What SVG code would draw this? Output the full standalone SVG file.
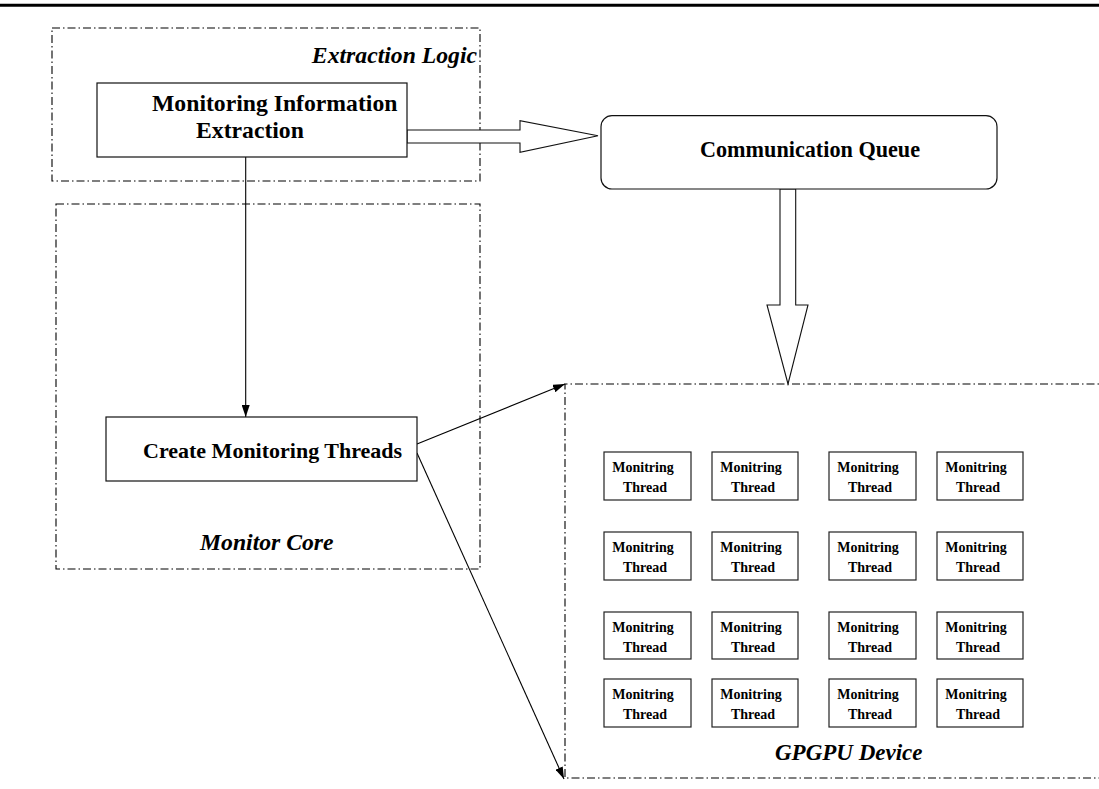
<svg xmlns="http://www.w3.org/2000/svg" width="1099" height="789" viewBox="0 0 1099 789">
<defs>
<style>
.grp{fill:none;stroke:#000;stroke-width:1.1;stroke-dasharray:8 3 1.5 3}
.box{fill:#fff;stroke:#111;stroke-width:1.2}
.tb{fill:#fff;stroke:#222;stroke-width:1.2}
.lbl{font-family:"Liberation Serif","Times New Roman",serif;font-weight:bold;fill:#000}
.it{font-family:"Liberation Serif","Times New Roman",serif;font-weight:bold;font-style:italic;fill:#000;font-size:23.7px}
.th{font-family:"Liberation Serif","Times New Roman",serif;font-weight:bold;fill:#000;font-size:14px;text-anchor:middle}
.ln{fill:none;stroke:#000;stroke-width:1.1}
.hollow{fill:#fff;stroke:#111;stroke-width:1.1;stroke-linejoin:miter}
</style>
<marker id="ah" markerWidth="12" markerHeight="8" refX="12" refY="4" orient="auto" markerUnits="userSpaceOnUse">
<path d="M0,0 L12,4 L0,8 Z" fill="#000"/>
</marker>
</defs>
<rect width="1099" height="789" fill="#fff"/>
<line x1="0" y1="5.3" x2="1099" y2="5.3" stroke="#000" stroke-width="3"/>

<g id="extraction-logic">
<rect class="grp" x="52" y="28" width="428" height="153"/>
<text class="it" x="477" y="63" text-anchor="end">Extraction Logic</text>
</g>
<g id="monitor-core">
<rect class="grp" x="56" y="204" width="424" height="365"/>
<text class="it" x="200" y="550">Monitor Core</text>
</g>
<g id="gpgpu-device">
<path class="grp" d="M1110,384 L565,384 L565,778 L1110,778"/>
<text class="it" x="775" y="760" style="font-size:23px">GPGPU Device</text>
</g>

<g id="connectors">
<polygon class="hollow" points="407,130 520,130 520,120.7 598,135.7 520,152.3 520,143 407,143"/>
<polygon class="hollow" points="780,189 780,305 767,305 788,384 808,305 795.7,305 795.7,189"/>
<line class="ln" x1="245.7" y1="157" x2="245.7" y2="417" marker-end="url(#ah)"/>
<line class="ln" x1="417" y1="444" x2="565" y2="384" marker-end="url(#ah)"/>
<line class="ln" x1="417" y1="453" x2="564" y2="779" marker-end="url(#ah)"/>
</g>

<g id="monitoring-information-extraction">
<rect class="box" x="97" y="83" width="310" height="74"/>
<text class="lbl" x="152" y="111" style="font-size:23.7px">Monitoring Information</text>
<text class="lbl" x="196" y="138" style="font-size:23.7px">Extraction</text>
</g>
<g id="communication-queue">
<rect class="box" x="601" y="115.7" width="396" height="73.3" rx="11" ry="11"/>
<text class="lbl" x="700" y="157" style="font-size:22.2px">Communication Queue</text>
</g>
<g id="create-monitoring-threads">
<rect class="box" x="106" y="417" width="311" height="64"/>
<text class="lbl" x="143" y="458" style="font-size:22px">Create Monitoring Threads</text>
</g>

<g id="t11"><rect class="tb" x="604" y="452" width="87" height="48"/><text class="th" x="643" y="472">Monitring</text><text class="th" x="645" y="492">Thread</text></g>
<g id="t12"><rect class="tb" x="712" y="452" width="86" height="48"/><text class="th" x="751" y="472">Monitring</text><text class="th" x="753" y="492">Thread</text></g>
<g id="t13"><rect class="tb" x="829" y="452" width="87" height="48"/><text class="th" x="868" y="472">Monitring</text><text class="th" x="870" y="492">Thread</text></g>
<g id="t14"><rect class="tb" x="937" y="452" width="86" height="48"/><text class="th" x="976" y="472">Monitring</text><text class="th" x="978" y="492">Thread</text></g>

<g id="t21"><rect class="tb" x="604" y="532" width="87" height="48"/><text class="th" x="643" y="552">Monitring</text><text class="th" x="645" y="572">Thread</text></g>
<g id="t22"><rect class="tb" x="712" y="532" width="86" height="48"/><text class="th" x="751" y="552">Monitring</text><text class="th" x="753" y="572">Thread</text></g>
<g id="t23"><rect class="tb" x="829" y="532" width="87" height="48"/><text class="th" x="868" y="552">Monitring</text><text class="th" x="870" y="572">Thread</text></g>
<g id="t24"><rect class="tb" x="937" y="532" width="86" height="48"/><text class="th" x="976" y="552">Monitring</text><text class="th" x="978" y="572">Thread</text></g>

<g id="t31"><rect class="tb" x="604" y="612" width="87" height="47"/><text class="th" x="643" y="632">Monitring</text><text class="th" x="645" y="652">Thread</text></g>
<g id="t32"><rect class="tb" x="712" y="612" width="86" height="47"/><text class="th" x="751" y="632">Monitring</text><text class="th" x="753" y="652">Thread</text></g>
<g id="t33"><rect class="tb" x="829" y="612" width="87" height="47"/><text class="th" x="868" y="632">Monitring</text><text class="th" x="870" y="652">Thread</text></g>
<g id="t34"><rect class="tb" x="937" y="612" width="86" height="47"/><text class="th" x="976" y="632">Monitring</text><text class="th" x="978" y="652">Thread</text></g>

<g id="t41"><rect class="tb" x="604" y="679" width="87" height="48"/><text class="th" x="643" y="699">Monitring</text><text class="th" x="645" y="719">Thread</text></g>
<g id="t42"><rect class="tb" x="712" y="679" width="86" height="48"/><text class="th" x="751" y="699">Monitring</text><text class="th" x="753" y="719">Thread</text></g>
<g id="t43"><rect class="tb" x="829" y="679" width="87" height="48"/><text class="th" x="868" y="699">Monitring</text><text class="th" x="870" y="719">Thread</text></g>
<g id="t44"><rect class="tb" x="937" y="679" width="86" height="48"/><text class="th" x="976" y="699">Monitring</text><text class="th" x="978" y="719">Thread</text></g>
</svg>
